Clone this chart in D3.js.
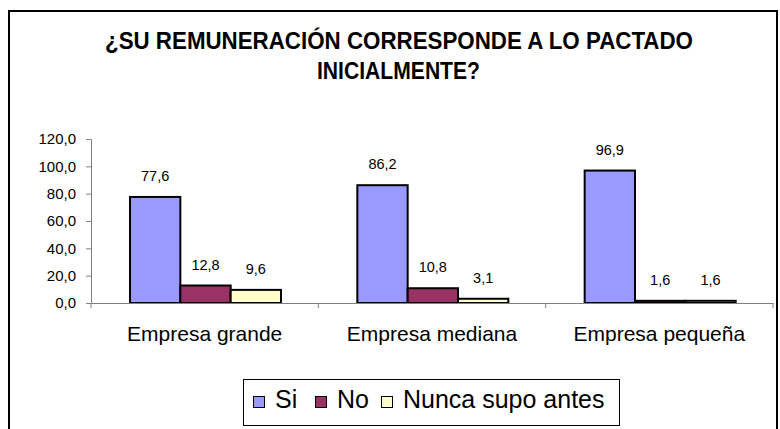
<!DOCTYPE html>
<html>
<head>
<meta charset="utf-8">
<script src="https://cdn.jsdelivr.net/npm/d3@7"></script>
<style>
  body { margin: 0; background: #fff; }
  svg { display: block; }
</style>
</head>
<body>
<svg width="780" height="429"></svg>
<script>
var categories = ['Empresa grande', 'Empresa mediana', 'Empresa pequeña'];
var seriesNames = ['Si', 'No', 'Nunca supo antes'];
var si = [77.6, 86.2, 96.9];
var no = [12.8, 10.8, 1.6];
var nunca = [9.6, 3.1, 1.6];
var yTicks = [0, 20, 40, 60, 80, 100, 120];
var colors = ['#9999FF', '#993366', '#FFFFCC'];

var series = [si, no, nunca];
var svg = d3.select('svg');
var font = '"Liberation Sans", Arial, sans-serif';
var fmt = function(v) { return v.toFixed(1).replace('.', ','); };

// outer frame
svg.append('path')
  .attr('d', 'M9,429 V11 H777 V429')
  .attr('fill', 'none')
  .attr('stroke', '#000')
  .attr('stroke-width', 2);

// title (condensed bold)
var title = svg.append('g')
  .attr('font-family', font)
  .attr('font-weight', 'bold')
  .attr('font-size', '23.5px');
title.append('text').attr('x', 105).attr('y', 49)
  .attr('textLength', 588).attr('lengthAdjust', 'spacingAndGlyphs')
  .text('¿SU REMUNERACIÓN CORRESPONDE A LO PACTADO');
title.append('text').attr('x', 317).attr('y', 79)
  .attr('textLength', 163).attr('lengthAdjust', 'spacingAndGlyphs')
  .text('INICIALMENTE?');

var x0 = d3.scaleBand().domain(categories).range([91, 773]);
var x1 = d3.scaleBand().domain(d3.range(3)).range([39, 190]);
var y = d3.scaleLinear().domain([0, 120]).range([303, 139]);

// y axis
var yAxis = svg.append('g')
  .attr('transform', 'translate(91,0)')
  .call(d3.axisLeft(y).tickValues(yTicks).tickSize(5).tickPadding(10).tickFormat(fmt));
yAxis.selectAll('path, line').attr('stroke', '#808080');
yAxis.selectAll('text')
  .attr('font-family', font)
  .attr('font-size', '15px')
  .attr('fill', '#000');

// bars
categories.forEach(function(c, ci) {
  series.forEach(function(s, k) {
    var bx = x0(c) + x1(k);
    svg.append('rect')
      .attr('x', bx)
      .attr('y', y(s[ci]))
      .attr('width', x1.bandwidth())
      .attr('height', y(0) - y(s[ci]))
      .attr('fill', colors[k])
      .attr('stroke', '#000')
      .attr('stroke-width', 2);
    svg.append('text')
      .attr('x', bx + x1.bandwidth() / 2)
      .attr('y', y(s[ci]) - 16)
      .attr('text-anchor', 'middle')
      .attr('font-family', font)
      .attr('font-size', '14.5px')
      .text(fmt(s[ci]));
  });
});

// x axis
var xAxis = svg.append('g')
  .attr('transform', 'translate(0,303)')
  .call(d3.axisBottom(x0).tickSize(0).tickPadding(23));
xAxis.select('.domain').attr('stroke', '#808080');
xAxis.selectAll('text')
  .attr('font-family', font)
  .attr('font-size', '21px')
  .attr('fill', '#000');
var seps = [x0.range()[0]].concat(categories.map(function(c) { return x0(c) + x0.bandwidth(); }));
xAxis.selectAll('.sep').data(seps).enter()
  .append('line')
  .attr('x1', function(d) { return d; })
  .attr('x2', function(d) { return d; })
  .attr('y1', 0).attr('y2', 5)
  .attr('stroke', '#808080');

// legend
var legend = svg.append('g');
legend.append('rect')
  .attr('x', 243.5).attr('y', 379.5).attr('width', 376).attr('height', 46)
  .attr('fill', '#fff').attr('stroke', '#000');
var legendX = [253, 315, 381];
seriesNames.forEach(function(n, i) {
  legend.append('rect')
    .attr('x', legendX[i] + 0.5).attr('y', 396.5).attr('width', 11).attr('height', 11)
    .attr('fill', colors[i]).attr('stroke', '#000');
  legend.append('text')
    .attr('x', legendX[i] + 22).attr('y', 408)
    .attr('font-family', font)
    .attr('font-size', '25px')
    .text(n);
});
</script>
</body>
</html>
